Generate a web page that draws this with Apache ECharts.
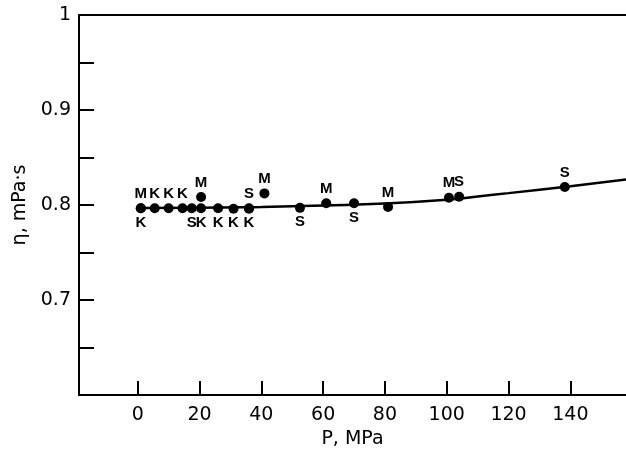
<!DOCTYPE html>
<html>
<head>
<meta charset="utf-8">
<script src="https://cdn.jsdelivr.net/npm/echarts@6/dist/echarts.min.js"></script>
<style>
  html, body { margin: 0; padding: 0; background: #fff; }
  #chart { width: 626px; height: 451px; }
</style>
</head>
<body>
<div id="chart"></div>
<script>
// Viscosity of water vs pressure, measurements from three sources (M, K, S)
const mPressure  = [1, 20.5, 41, 61, 81, 100.7];
const mViscosity = [0.7965, 0.8085, 0.8122, 0.8018, 0.798, 0.8077];
const mLabelSide = ['top', 'top', 'top', 'top', 'top', 'top'];

const kPressure  = [1, 5.5, 10, 14.5, 20.5, 26, 31, 36];
const kViscosity = [0.7965, 0.7965, 0.7965, 0.7965, 0.7965, 0.7965, 0.796, 0.796];
const kLabelSide = ['bottom', 'top', 'top', 'top', 'bottom', 'bottom', 'bottom', 'bottom'];

const sPressure  = [17.5, 36, 52.5, 70, 104, 138.2];
const sViscosity = [0.7965, 0.7965, 0.797, 0.8018, 0.8087, 0.819];
const sLabelSide = ['bottom', 'top', 'bottom', 'bottom', 'top', 'top'];

// Smoothed fit through the measurements
const fitPressure  = [1, 20, 40, 60, 80, 100, 110, 120, 140, 158];
const fitViscosity = [0.7968, 0.797, 0.798, 0.7995, 0.8015, 0.8055, 0.809, 0.8125, 0.8198, 0.8268];

const xTicks = [0, 20, 40, 60, 80, 100, 120, 140];
const yLabelled = { '0.7': '0.7', '0.8': '0.8', '0.9': '0.9', '1': '1' };

const FONT = 'DejaVu Sans';
const INK = '#000';

function pointSeries(name, xs, ys, sides) {
  return {
    name: name,
    type: 'scatter',
    symbol: 'circle',
    symbolSize: 10,
    itemStyle: { color: INK, opacity: 1 },
    z: 5,
    label: {
      show: true,
      formatter: name,
      color: INK,
      fontFamily: 'Liberation Sans',
      fontWeight: 'bold',
      fontSize: 15,
      distance: 2
    },
    data: xs.map((p, i) => ({ value: [p, ys[i]], label: { position: sides[i] } }))
  };
}

const chart = echarts.init(document.getElementById('chart'), null, { renderer: 'canvas' });

chart.setOption({
  animation: false,
  backgroundColor: '#fff',
  grid: { left: 79, right: 0, top: 15, bottom: 56, containLabel: false, outerBoundsMode: 'none' },
  xAxis: [{
    type: 'value',
    min: -19,
    max: 158,
    position: 'bottom',
    splitLine: { show: false },
    axisLine: { onZero: false, lineStyle: { color: INK, width: 2 } },
    axisTick: { inside: true, length: 14, customValues: xTicks, lineStyle: { color: INK, width: 2 } },
    axisLabel: { customValues: xTicks, color: INK, fontFamily: FONT, fontSize: 19, margin: 11 },
    name: 'P, MPa',
    nameLocation: 'middle',
    nameGap: 32,
    nameTextStyle: { color: INK, fontFamily: FONT, fontSize: 19 }
  }, {
    type: 'value',
    min: -19,
    max: 158,
    position: 'top',
    splitLine: { show: false },
    axisLine: { onZero: false, lineStyle: { color: INK, width: 2 } },
    axisTick: { show: false },
    axisLabel: { show: false }
  }],
  yAxis: {
    type: 'value',
    min: 0.6,
    max: 1.0,
    interval: 0.05,
    splitLine: { show: false },
    axisLine: { onZero: false, lineStyle: { color: INK, width: 2 } },
    axisTick: { inside: true, length: 15, lineStyle: { color: INK, width: 2 } },
    axisLabel: {
      color: INK, fontFamily: FONT, fontSize: 19, margin: 8,
      formatter: function (v) {
        const key = String(Math.round(v * 100) / 100);
        return yLabelled[key] || '';
      }
    },
    name: 'η, mPa·s',
    nameLocation: 'middle',
    nameGap: 49,
    nameTextStyle: { color: INK, fontFamily: FONT, fontSize: 19 }
  },
  series: [
    {
      name: 'fit',
      type: 'line',
      smooth: true,
      symbol: 'none',
      lineStyle: { color: INK, width: 2.5 },
      z: 3,
      data: fitPressure.map((p, i) => [p, fitViscosity[i]])
    },
    pointSeries('M', mPressure, mViscosity, mLabelSide),
    pointSeries('K', kPressure, kViscosity, kLabelSide),
    pointSeries('S', sPressure, sViscosity, sLabelSide)
  ]
});
</script>
</body>
</html>
